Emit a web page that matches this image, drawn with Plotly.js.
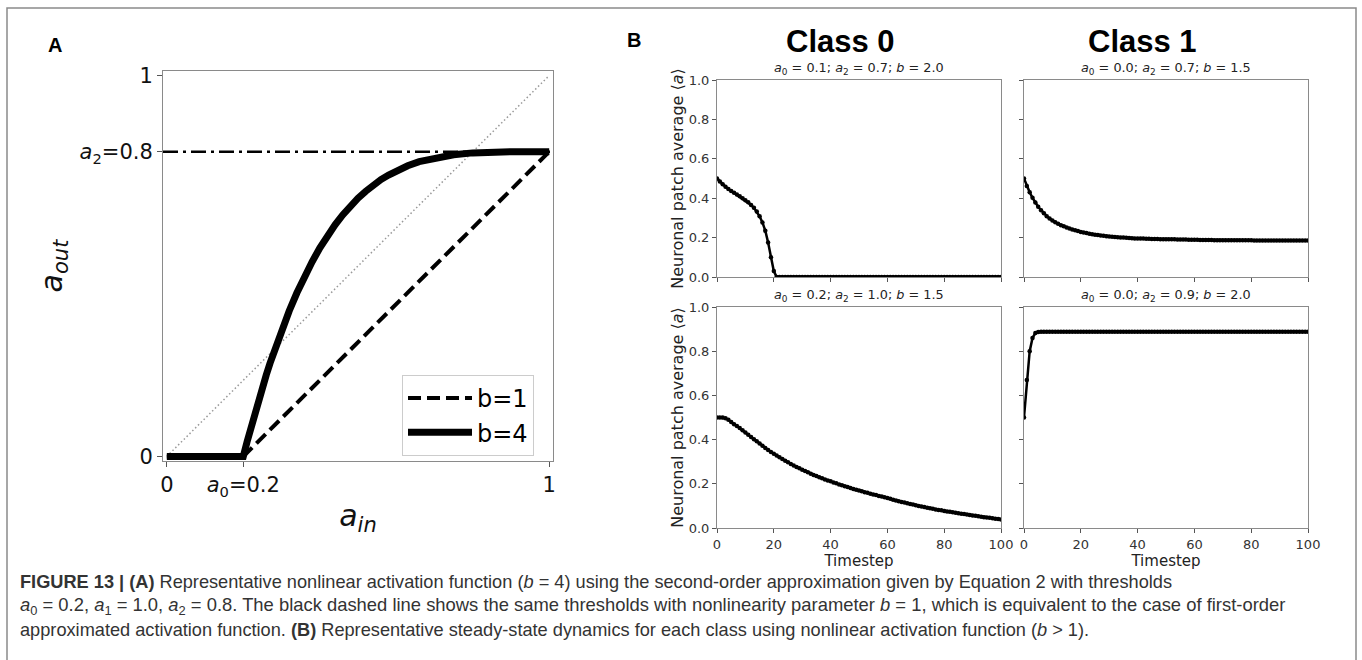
<!DOCTYPE html>
<html>
<head>
<meta charset="utf-8">
<script src="https://cdn.plot.ly/plotly-3.0.1.min.js"></script>
<style>html,body{margin:0;padding:0;background:#fff;}#chart{width:1362px;height:660px;}</style>
</head>
<body>
<div id="chart"></div>
<script>
// ---------- Panel A data ----------
const aInB4 = [0, 0.2, 0.21, 0.22, 0.23, 0.24, 0.25, 0.26, 0.27, 0.28, 0.29, 0.30, 0.32, 0.34, 0.36, 0.38, 0.40,
  0.42, 0.44, 0.46, 0.48, 0.50, 0.52, 0.54, 0.56, 0.58, 0.60, 0.63, 0.66, 0.70, 0.75, 0.80, 0.85, 0.90, 1.0];
const aOutB4 = [0, 0, 0.039, 0.077, 0.113, 0.148, 0.182, 0.214, 0.245, 0.275, 0.304, 0.331, 0.382, 0.429, 0.472, 0.511, 0.547,
  0.579, 0.608, 0.634, 0.657, 0.678, 0.696, 0.713, 0.727, 0.739, 0.750, 0.763, 0.774, 0.784, 0.792, 0.797, 0.799, 0.800, 0.800];
const aInB1 = [0, 0.2, 1.0];
const aOutB1 = [0, 0, 0.8];
const identityX = [0, 1];
const identityY = [0, 1];
const a2Level = 0.8;
const aTickVals = [0, 0.2, 1];
const aTickText = ['0', '<i>a</i><sub>0</sub>=0.2', '1'];
const aOutTickVals = [0, 0.8, 1];
const aOutTickText = ['0', '<i>a</i><sub>2</sub>=0.8', '1'];
const legendNames = ['b=1', 'b=4'];

// ---------- Panel B data ----------
const timestep = Array.from({length: 101}, (_, i) => i);
const class0Top = [
  0.500, 0.485, 0.471, 0.458, 0.447, 0.437, 0.428, 0.419, 0.410, 0.400,
  0.390, 0.379, 0.366, 0.351, 0.332, 0.308, 0.277, 0.235, 0.175, 0.100,
  0.030, 0, 0, 0, 0, 0, 0, 0, 0, 0,
  0, 0, 0, 0, 0, 0, 0, 0, 0, 0,
  0, 0, 0, 0, 0, 0, 0, 0, 0, 0,
  0, 0, 0, 0, 0, 0, 0, 0, 0, 0,
  0, 0, 0, 0, 0, 0, 0, 0, 0, 0,
  0, 0, 0, 0, 0, 0, 0, 0, 0, 0,
  0, 0, 0, 0, 0, 0, 0, 0, 0, 0,
  0, 0, 0, 0, 0, 0, 0, 0, 0, 0,
  0
];
const class1Top = [
  0.500, 0.462, 0.430, 0.402, 0.378, 0.357, 0.339, 0.323, 0.309, 0.297,
  0.287, 0.278, 0.270, 0.263, 0.257, 0.251, 0.246, 0.241, 0.237, 0.233,
  0.229, 0.226, 0.223, 0.220, 0.217, 0.215, 0.213, 0.211, 0.209, 0.207,
  0.205, 0.204, 0.203, 0.202, 0.201, 0.200, 0.199, 0.198, 0.197, 0.196,
  0.196, 0.195, 0.195, 0.194, 0.194, 0.193, 0.193, 0.193, 0.192, 0.192,
  0.192, 0.191, 0.191, 0.191, 0.190, 0.190, 0.190, 0.190, 0.189, 0.189,
  0.189, 0.189, 0.188, 0.188, 0.188, 0.188, 0.188, 0.187, 0.187, 0.187,
  0.187, 0.187, 0.187, 0.186, 0.186, 0.186, 0.186, 0.186, 0.186, 0.186,
  0.186, 0.185, 0.185, 0.185, 0.185, 0.185, 0.185, 0.185, 0.185, 0.185,
  0.185, 0.185, 0.185, 0.185, 0.185, 0.185, 0.185, 0.185, 0.185, 0.185,
  0.185
];
const class0Bottom = [
  0.500, 0.500, 0.500, 0.497, 0.490, 0.480, 0.470, 0.461, 0.452, 0.442,
  0.432, 0.422, 0.412, 0.402, 0.392, 0.382, 0.372, 0.362, 0.353, 0.344,
  0.336, 0.328, 0.320, 0.312, 0.304, 0.297, 0.290, 0.283, 0.276, 0.270,
  0.264, 0.258, 0.252, 0.246, 0.240, 0.235, 0.230, 0.225, 0.220, 0.215,
  0.211, 0.206, 0.202, 0.197, 0.193, 0.189, 0.185, 0.181, 0.177, 0.173,
  0.170, 0.166, 0.162, 0.159, 0.155, 0.152, 0.149, 0.145, 0.142, 0.139,
  0.136, 0.132, 0.128, 0.125, 0.121, 0.118, 0.115, 0.112, 0.109, 0.106,
  0.103, 0.100, 0.097, 0.095, 0.092, 0.089, 0.087, 0.084, 0.082, 0.080,
  0.077, 0.075, 0.073, 0.071, 0.069, 0.067, 0.065, 0.063, 0.061, 0.059,
  0.057, 0.055, 0.053, 0.051, 0.049, 0.048, 0.046, 0.044, 0.042, 0.041,
  0.039
];
const class1Bottom = [
  0.500, 0.670, 0.800, 0.860, 0.882, 0.887, 0.888, 0.888, 0.888, 0.888,
  0.888, 0.888, 0.888, 0.888, 0.888, 0.888, 0.888, 0.888, 0.888, 0.888,
  0.888, 0.888, 0.888, 0.888, 0.888, 0.888, 0.888, 0.888, 0.888, 0.888,
  0.888, 0.888, 0.888, 0.888, 0.888, 0.888, 0.888, 0.888, 0.888, 0.888,
  0.888, 0.888, 0.888, 0.888, 0.888, 0.888, 0.888, 0.888, 0.888, 0.888,
  0.888, 0.888, 0.888, 0.888, 0.888, 0.888, 0.888, 0.888, 0.888, 0.888,
  0.888, 0.888, 0.888, 0.888, 0.888, 0.888, 0.888, 0.888, 0.888, 0.888,
  0.888, 0.888, 0.888, 0.888, 0.888, 0.888, 0.888, 0.888, 0.888, 0.888,
  0.888, 0.888, 0.888, 0.888, 0.888, 0.888, 0.888, 0.888, 0.888, 0.888,
  0.888, 0.888, 0.888, 0.888, 0.888, 0.888, 0.888, 0.888, 0.888, 0.888,
  0.888
];
const subplotTitles = [
  '<i>a</i><sub>0</sub> = 0.1; <i>a</i><sub>2</sub> = 0.7; <i>b</i> = 2.0',
  '<i>a</i><sub>0</sub> = 0.0; <i>a</i><sub>2</sub> = 0.7; <i>b</i> = 1.5',
  '<i>a</i><sub>0</sub> = 0.2; <i>a</i><sub>2</sub> = 1.0; <i>b</i> = 1.5',
  '<i>a</i><sub>0</sub> = 0.0; <i>a</i><sub>2</sub> = 0.9; <i>b</i> = 2.0'
];
const classTitles = ['Class 0', 'Class 1'];
const captionLines = [
  '<b>FIGURE 13 | (A)</b> Representative nonlinear activation function (<i>b</i> = 4) using the second-order approximation given by Equation 2 with thresholds',
  '<i>a</i><sub>0</sub> = 0.2, <i>a</i><sub>1</sub> = 1.0, <i>a</i><sub>2</sub> = 0.8. The black dashed line shows the same thresholds with nonlinearity parameter <i>b</i> = 1, which is equivalent to the case of first-order',
  'approximated activation function. <b>(B)</b> Representative steady-state dynamics for each class using nonlinear activation function (<i>b</i> &gt; 1).'
];

// ---------- helpers ----------
const W = 1362, H = 660;
const px = v => v / W;
const py = v => 1 - v / H;
const DV = 'DejaVu Sans, sans-serif';
const LS = 'Liberation Sans, Arial, sans-serif';
const SPINE = '#8a8a8a';

const traces = [];
// Panel A
traces.push({x: identityX, y: identityY, xaxis: 'x', yaxis: 'y', mode: 'lines', showlegend: false,
  line: {color: '#999999', width: 1.5, dash: '1.5px,2.5px'}, hoverinfo: 'skip'});
traces.push({x: aInB1, y: aOutB1, xaxis: 'x', yaxis: 'y', mode: 'lines', name: legendNames[0],
  line: {color: '#000', width: 4, dash: '13px,6px'}});
traces.push({x: aInB4, y: aOutB4, xaxis: 'x', yaxis: 'y', mode: 'lines', name: legendNames[1],
  line: {color: '#000', width: 7}});

// Panel B
const bSeries = [class0Top, class1Top, class0Bottom, class1Bottom];
bSeries.forEach((s, i) => {
  traces.push({x: timestep, y: s, xaxis: 'x' + (i + 2), yaxis: 'y' + (i + 2), mode: 'lines+markers',
    showlegend: false, line: {color: '#000', width: 2.5}, marker: {color: '#000', size: 4.5}});
});

function bAxisX(domain, anchor, labels, title) {
  return {domain: domain, anchor: anchor, range: [0, 100], dtick: 20, tick0: 0,
    showticklabels: labels, ticks: 'outside', ticklen: 4, tickwidth: 1, tickcolor: '#555',
    showline: true, mirror: true, linecolor: SPINE, linewidth: 1, showgrid: false, zeroline: false,
    automargin: false, tickfont: {family: DV, size: 13, color: '#333'},
    title: title ? {text: title, font: {family: DV, size: 15, color: '#222'}, standoff: 2} : {text: ''}};
}
function bAxisY(domain, anchor, labels, title) {
  return {domain: domain, anchor: anchor, range: [0, 1], dtick: 0.2, tick0: 0, tickformat: '.1f',
    showticklabels: labels, ticks: 'outside', ticklen: 4, tickwidth: 1, tickcolor: '#555',
    showline: true, mirror: true, linecolor: SPINE, linewidth: 1, showgrid: false, zeroline: false,
    automargin: false, tickfont: {family: DV, size: 13, color: '#333'},
    title: title ? {text: title, font: {family: DV, size: 16, color: '#222'}, standoff: 1} : {text: ''}};
}

const colL = [px(717), px(1001)];
const colR = [px(1024), px(1308)];
const rowT = [py(277), py(80)];
const rowB = [py(528), py(307)];
const yTitle = 'Neuronal patch average ⟨<i>a</i>⟩';

const annotations = [];
function paperText(x, y, text, font, xanchor) {
  annotations.push({xref: 'paper', yref: 'paper', x: px(x), y: py(y), xanchor: xanchor || 'center',
    yanchor: 'middle', text: text, showarrow: false, font: font});
}
paperText(55, 45, '<b>A</b>', {family: LS, size: 20, color: '#000'});
paperText(634, 40, '<b>B</b>', {family: LS, size: 20, color: '#000'});
paperText(840, 41, '<b>' + classTitles[0] + '</b>', {family: LS, size: 31, color: '#000'});
paperText(1142, 42, '<b>' + classTitles[1] + '</b>', {family: LS, size: 31, color: '#000'});
subplotTitles.forEach((t, i) => {
  annotations.push({xref: 'x' + (i + 2) + ' domain', yref: 'y' + (i + 2) + ' domain', x: 0.5, y: 1,
    xanchor: 'center', yanchor: 'bottom', yshift: 1, text: t, showarrow: false,
    font: {family: DV, size: 12.8, color: '#222'}});
});
const capY = [582, 606, 630];
const capSize = [18.2, 18.4, 18.2];
captionLines.forEach((t, i) => {
  paperText(18, capY[i], t, {family: LS, size: capSize[i], color: '#333'}, 'left');
});

const layout = {
  width: W, height: H, margin: {l: 0, r: 0, t: 0, b: 0},
  paper_bgcolor: '#fff', plot_bgcolor: '#fff', showlegend: true,
  legend: {x: px(402), y: py(456), xanchor: 'left', yanchor: 'bottom', bgcolor: '#fff', itemwidth: 64,
    bordercolor: '#cccccc', borderwidth: 1, font: {family: DV, size: 24, color: '#000'}, tracegroupgap: 0},
  xaxis: {domain: [px(163), px(553)], anchor: 'y', range: [-0.01, 1.01], tickvals: aTickVals, ticktext: aTickText,
    ticks: 'outside', ticklen: 5, tickwidth: 1, tickcolor: '#555', showline: true, mirror: true, linecolor: SPINE,
    linewidth: 1, showgrid: false, zeroline: false, automargin: false,
    tickfont: {family: DV, size: 21, color: '#111'},
    title: {text: '<i>a</i><sub><i>in</i></sub>', font: {family: DV, size: 30, color: '#111'}, standoff: 6}},
  yaxis: {domain: [py(461), py(71)], anchor: 'x', range: [-0.012, 1.012], tickvals: aOutTickVals, ticktext: aOutTickText,
    ticks: 'outside', ticklen: 5, tickwidth: 1, tickcolor: '#555', showline: true, mirror: true, linecolor: SPINE,
    linewidth: 1, showgrid: false, zeroline: false, automargin: false,
    tickfont: {family: DV, size: 21, color: '#111'},
    title: {text: '<i>a</i><sub><i>out</i></sub>', font: {family: DV, size: 30, color: '#111'}, standoff: 8}},
  xaxis2: bAxisX(colL, 'y2', false, null),
  yaxis2: bAxisY(rowT, 'x2', true, yTitle),
  xaxis3: bAxisX(colR, 'y3', false, null),
  yaxis3: bAxisY(rowT, 'x3', false, null),
  xaxis4: bAxisX(colL, 'y4', true, 'Timestep'),
  yaxis4: bAxisY(rowB, 'x4', true, yTitle),
  xaxis5: bAxisX(colR, 'y5', true, 'Timestep'),
  yaxis5: bAxisY(rowB, 'x5', false, null),
  shapes: [
    {type: 'line', xref: 'x domain', yref: 'y', x0: 0, x1: 1, y0: a2Level, y1: a2Level, layer: 'below',
      line: {color: '#000', width: 2.5, dash: '15px,5px,3px,5px'}},
    {type: 'rect', xref: 'paper', yref: 'paper', x0: px(7), x1: px(1356), y0: -0.2, y1: py(8),
      line: {color: '#8a8a8a', width: 1.5}, fillcolor: 'rgba(0,0,0,0)', layer: 'above'}
  ],
  annotations: annotations
};

Plotly.newPlot('chart', traces, layout, {staticPlot: true, displayModeBar: false});
</script>
</body>
</html>
